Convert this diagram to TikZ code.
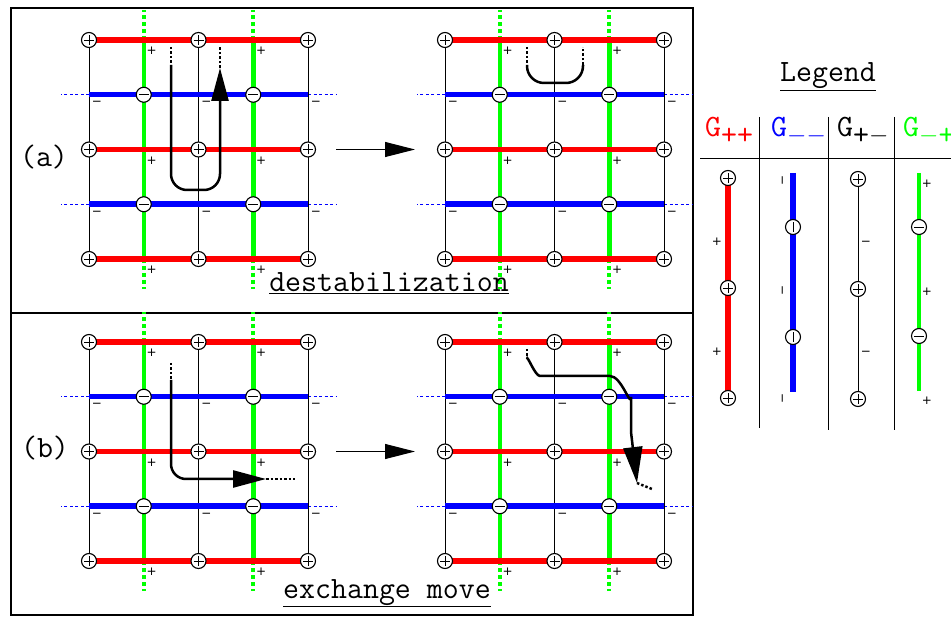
\documentclass[tikz,border=0pt]{standalone}
\usepackage{fontspec}
\newfontfamily\signfont{DejaVu Sans}
\usetikzlibrary{arrows.meta, positioning}

\begin{document}
\begin{tikzpicture}[
    x=1pt, y=-1pt,
    redl/.style={red, line width=5.5pt},
    bluel/.style={blue, line width=5.5pt},
    greenl/.style={green, line width=4.5pt},
    blackl/.style={black, line width=1pt},
    bluedot/.style={blue, line width=1.2pt, dash pattern=on 3pt off 2.5pt},
    greendot/.style={green, line width=4pt, dash pattern=on 4pt off 3pt},
    ring/.style={circle, draw, fill=white, line width=1.1pt, minimum size=15pt, inner sep=0pt},
    pplus/.style={ring, path picture={\draw[line width=0.8pt]
        ([xshift=-5pt]path picture bounding box.center) -- ([xshift=5pt]path picture bounding box.center)
        ([yshift=-5pt]path picture bounding box.center) -- ([yshift=5pt]path picture bounding box.center);}},
    pminus/.style={ring, path picture={\draw[line width=0.8pt]
        ([xshift=-5pt]path picture bounding box.center) -- ([xshift=5pt]path picture bounding box.center);}},
    pbar/.style={ring, path picture={\draw[line width=0.8pt]
        ([yshift=-5pt]path picture bounding box.center) -- ([yshift=5pt]path picture bounding box.center);}},
    sgn/.style={font=\signfont\fontsize{12}{12}\selectfont, inner sep=0pt},
    ttl/.style={font=\ttfamily\fontsize{31}{34}\selectfont, inner sep=0pt, anchor=base},
    tour/.style={line width=2.5pt},
    tourdot/.style={line width=2.5pt, dash pattern=on 2.5pt off 2pt},
    arr/.style={-{Triangle[length=33pt, width=17pt]}},
    bigarr/.style={line width=1pt, -{Triangle[length=30pt, width=15pt]}}
]
    \useasboundingbox (0,0) rectangle (951,617);

    % frames
    \draw[line width=2.5pt] (11,8) rectangle (693,615);
    \draw[line width=2.5pt] (11,313) -- (693,313);

    % the four grids
    \foreach \g/\gx/\gy in {a/89/40, c/445/40, b/89/342, d/445/342} {
        \begin{scope}[shift={(\gx,\gy)}]
            \foreach \i in {0,...,4}
                \foreach \j in {0,...,4}
                    \coordinate (\g\i\j) at (54.75*\i, 54.75*\j);
        \end{scope}
        \foreach \i in {1,3} {
            \draw[greendot] (\g\i0) -- ++(0,-30);
            \draw[greendot] (\g\i4) -- ++(0,30);
        }
        \foreach \j in {1,3} {
            \draw[bluedot] (\g0\j) -- ++(-28,0);
            \draw[bluedot] (\g4\j) -- ++(28,0);
        }
        \foreach \i in {0,2,4} \draw[blackl] (\g\i0) -- (\g\i4);
        \foreach \i in {1,3} \draw[greenl] (\g\i0) -- (\g\i4);
        \foreach \j in {0,2,4} \draw[redl] (\g0\j) -- (\g4\j);
        \foreach \j in {1,3} \draw[bluel] (\g0\j) -- (\g4\j);
        \foreach \i in {0,2,4}
            \foreach \j in {0,2,4}
                \node[pplus] (\g p\i\j) at (\g\i\j) {};
        \foreach \i in {1,3}
            \foreach \j in {1,3}
                \node[pminus] (\g m\i\j) at (\g\i\j) {};
        \foreach \i in {1,3}
            \foreach \j in {0,2,4}
                \node[sgn] (\g s\i\j) at ([shift={(8,11)}]\g\i\j) {+};
        \foreach \i in {0,2,4}
            \foreach \j in {1,3}
                \node[sgn] (\g s\i\j) at ([shift={(8,9)}]\g\i\j) {−};
    }

    % moves between grids
    \draw[bigarr] ([xshift=28pt]a42) -- ([xshift=-30pt]c02);
    \draw[bigarr] ([xshift=28pt]b42) -- ([xshift=-30pt]d02);

    % (a) destabilization
    \coordinate (ta0) at (171,47);
    \coordinate (ta1) at (171,65);
    \coordinate (ta2) at (220,68);
    \coordinate (ta3) at (220,47);
    \draw[tourdot] (ta0) -- (ta1);
    \draw[tour, arr, rounded corners=16pt] (ta1) -- (171,190) -- (220,190) -- (ta2);
    \draw[tourdot] (ta2) -- (ta3);

    \coordinate (tc0) at (527,47);
    \coordinate (tc1) at (527,65);
    \coordinate (tc2) at (583,65);
    \coordinate (tc3) at (583,47);
    \draw[tourdot] (tc0) -- (tc1);
    \draw[tour, rounded corners=17pt] (tc1) -- (527,83) -- (583,83) -- (tc2);
    \draw[tourdot] (tc2) -- (tc3);

    % (b) exchange move
    \coordinate (tb0) at (171,363);
    \coordinate (tb1) at (171,380);
    \coordinate (tb2) at (266,479);
    \coordinate (tb3) at (295,479);
    \draw[tourdot] (tb0) -- (tb1);
    \draw[tour, arr, rounded corners=15pt] (tb1) -- (171,479) -- (tb2);
    \draw[tourdot] (tb2) -- (tb3);

    \coordinate (td0) at (527,349);
    \coordinate (td1) at (527,359);
    \coordinate (td2) at (637,483);
    \coordinate (td3) at (652,489);
    \draw[tourdot] (td0) -- (td1);
    \draw[tour, -{Triangle[length=36pt, width=19pt]}] (td1) to[out=90, in=180, looseness=0.6] (540,376) -- (610,376)
        to[out=0, in=-90] (631,397) -- (631,432) -- (td2);
    \draw[tourdot] (td2) -- (td3);

    % labels
    \node[ttl] (lbla) at (44,167) {(a)};
    \node[ttl] (lblb) at (45,458) {(b)};
    \node[ttl] (destab) at (389,292) {\underline{destabilization}};
    \node[ttl] (exch) at (387,598) {\underline{exchange move}};

    % legend
    \node[ttl] (legend) at (828,82) {\underline{Legend}};
    \node[ttl, anchor=base west, red] (hpp) at (705,137) {G\raisebox{-8pt}{++}};
    \node[ttl, anchor=base west, blue] (hmm) at (771,137) {G\raisebox{-6pt}{$-$$-$}};
    \node[ttl, anchor=base west] (hpm) at (837,137) {G\raisebox{-8pt}{+\raisebox{2pt}{$-$}}};
    \node[ttl, anchor=base west, green] (hmp) at (903,137) {G\raisebox{-8pt}{\raisebox{2pt}{$-$}+}};
    \draw[line width=1pt] (700,159) -- (951,159);
    \foreach \x/\yb in {759/428, 828/430, 894/430}
        \draw[line width=1pt] (\x,117) -- (\x,\yb);

    % G++
    \draw[redl] (728,178) -- (728,398);
    \foreach \y [count=\k] in {178,288,398}
        \node[pplus] (lpp\k) at (728,\y) {};
    \foreach \y [count=\k] in {242,352}
        \node[sgn] (lpps\k) at (717,\y) {+};
    % G--
    \draw[bluel] (793,173) -- (793,392);
    \foreach \y [count=\k] in {227,337}
        \node[pbar] (lmm\k) at (793,\y) {};
    \foreach \y [count=\k] in {180,290,398}
        \node[sgn, rotate=90] (lmms\k) at (784,\y) {−};
    % G+-
    \draw[blackl] (858,179) -- (858,399);
    \foreach \y [count=\k] in {179,289,399}
        \node[pplus] (lpm\k) at (858,\y) {};
    \foreach \y [count=\k] in {243,353}
        \node[sgn] (lpms\k) at (866,\y) {−};
    % G-+
    \draw[greenl] (919,173) -- (919,391);
    \foreach \y [count=\k] in {227,336}
        \node[pminus] (lmp\k) at (919,\y) {};
    \foreach \y [count=\k] in {184,292,401}
        \node[sgn] (lmps\k) at (927,\y) {+};
\end{tikzpicture}
\end{document}
